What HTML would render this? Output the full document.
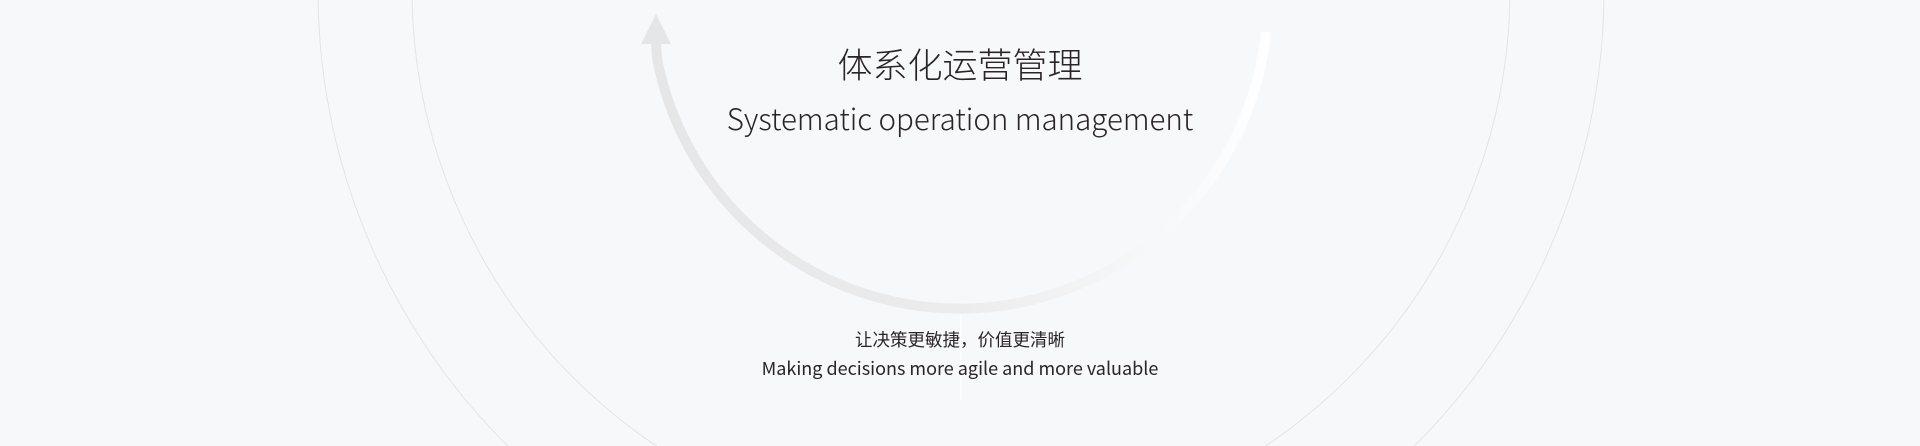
<!DOCTYPE html>
<html><head><meta charset="utf-8"><style>
html,body{margin:0;padding:0;width:1920px;height:446px;overflow:hidden}
body{background:#f7f8fa;position:relative;font-family:"Liberation Sans","Noto Sans CJK SC",sans-serif}
svg{position:absolute;left:0;top:0}
.t{position:absolute;left:0;width:1920px;text-align:center;color:#2a2426;line-height:1;white-space:nowrap}
</style></head><body>
<svg width="1920" height="446" viewBox="0 0 1920 446">
<defs>
<linearGradient id="g" x1="650" y1="0" x2="1270" y2="0" gradientUnits="userSpaceOnUse">
<stop offset="0" stop-color="#e6e6e6"/><stop offset="0.5" stop-color="#ececec"/><stop offset="1" stop-color="#ffffff"/>
</linearGradient>
</defs>
<circle cx="961" cy="-10" r="643" fill="none" stroke="#e3e4e7" stroke-width="1"/>
<circle cx="961" cy="-11" r="549" fill="none" stroke="#e3e4e7" stroke-width="1"/>
<path d="M656 42 L657 58 A308 308 0 0 0 1266 32" fill="none" stroke="url(#g)" stroke-width="10"/>
<polygon points="656,14 641,44 671,44" fill="#e6e6e6"/>
<line x1="961" y1="314" x2="961" y2="400" stroke="#ffffff" stroke-width="1"/>
</svg>
<div class="t" style="top:46px;font-size:35px;font-weight:300;font-family:'Noto Sans CJK SC',sans-serif;">体系化运营管理</div>
<div class="t" style="top:104px;font-size:29.5px;font-weight:300;font-family:'Noto Sans CJK SC','Liberation Sans',sans-serif;">Systematic operation management</div>
<div class="t" style="top:331px;font-size:17.5px;font-family:'Noto Sans CJK SC',sans-serif;">让决策更敏捷，价值更清晰</div>
<div class="t" style="top:359px;font-size:18px;font-family:'Noto Sans CJK SC','Liberation Sans',sans-serif;">Making decisions more agile and more valuable</div>
</body></html>
